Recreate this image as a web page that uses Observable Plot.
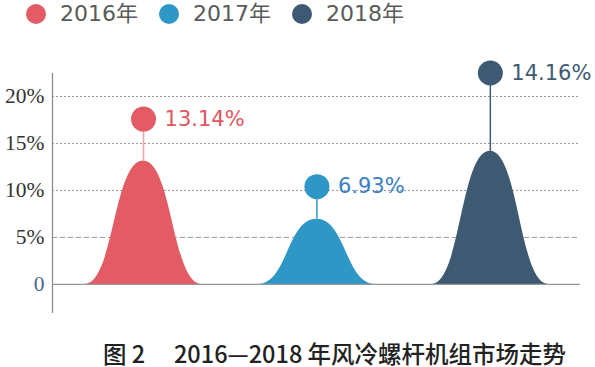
<!DOCTYPE html>
<html><head><meta charset="utf-8">
<script src="https://cdn.jsdelivr.net/npm/d3@7"></script>
<script src="https://cdn.jsdelivr.net/npm/@observablehq/plot@0.6"></script>
<style>
body{margin:0;background:#fff;width:595px;height:367px;overflow:hidden;font-family:"DejaVu Sans","Noto Sans CJK SC",sans-serif}
#legend{height:40px;display:flex;align-items:flex-start;padding-left:26px;box-sizing:border-box}
.item{display:flex;align-items:center;height:28px;margin-right:21px}
.sw{width:20px;height:20px;border-radius:50%;margin-right:14px}
.lt{font-size:22px;color:#5a5a5a;line-height:28px}
#chart{height:290px}
#chart svg{display:block}
#caption{height:37px;box-sizing:border-box;padding-top:10px;line-height:26px;padding-left:103px;font-family:"Noto Sans CJK SC",sans-serif;font-size:23.5px;font-weight:500;color:#222;white-space:pre}
</style></head><body>
<div id="legend"></div>
<div id="chart"></div>
<div id="caption"></div>
<script>
const years = ["2016年", "2017年", "2018年"];
const shares = [13.14, 6.93, 14.16];
const pinTops = [17.6, 10.4, 22.5];
const fills = ["#E35B64", "#2F97C6", "#3E5A72"];
const pinColors = ["#F2A3AA", "#2F97C6", "#3E5A72"];
const labelColors = ["#E05560", "#3A80C4", "#3E5A72"];
const yTicks = [0, 5, 10, 15, 20];
const yTickLabels = ["0", "5%", "10%", "15%", "20%"];
const tickColors = ["#4A6688", "#333", "#333", "#333", "#333"];
const captionText = "图 2\u3000 2016—2018 年风冷螺杆机组市场走势";

// legend
const leg = document.getElementById("legend");
years.forEach((y, i) => {
  const it = document.createElement("div"); it.className = "item";
  const sw = document.createElement("div"); sw.className = "sw"; sw.style.background = fills[i];
  const t = document.createElement("span"); t.className = "lt"; t.textContent = y;
  it.append(sw, t); leg.append(it);
});
document.getElementById("caption").textContent = captionText;

const idx = years.map((_, i) => i);
const halfW = 0.337;
const bells = shares.flatMap((v, i) => [
  {x: i - halfW, y: 0, k: i},
  {x: i, y: v, k: i},
  {x: i + halfW, y: 0, k: i}
]);
const xMin = -0.525;

const chart = Plot.plot({
  width: 595, height: 290,
  marginLeft: 52, marginRight: 15, marginTop: 33, marginBottom: 17,
  x: {domain: [xMin, 2.52], axis: null},
  y: {domain: [-3.1, 22.45], axis: null},
  color: {type: "identity"},
  style: {background: "transparent"},
  marks: [
    Plot.ruleY([5], {stroke: "#999", strokeWidth: 1, strokeDasharray: "5,3"}),
    Plot.ruleY([10, 15, 20], {stroke: "#9a9a9a", strokeWidth: 1, strokeDasharray: "2,2"}),
    Plot.areaY(bells, {x: "x", y: "y", z: "k", fill: d => fills[d.k], curve: "bump-x"}),
    Plot.ruleY([0], {stroke: "#999", strokeWidth: 1.3}),
    Plot.ruleX([xMin], {stroke: "#888", strokeWidth: 1.2}),
    Plot.ruleX(idx, {x: i => i, y1: i => shares[i], y2: i => pinTops[i], stroke: i => pinColors[i], strokeWidth: 1.5}),
    Plot.dot(idx, {x: i => i, y: i => pinTops[i], r: 12.5, fill: i => fills[i], stroke: null}),
    Plot.text(idx, {x: i => i, y: i => pinTops[i], text: i => shares[i].toFixed(2) + "%", dx: 21, textAnchor: "start", fontSize: 21, fontFamily: "DejaVu Sans", fill: i => labelColors[i]}),
    Plot.text(yTicks, {y: d => d, text: (d, i) => yTickLabels[i], frameAnchor: "left", textAnchor: "end", dx: -8, fontSize: 21.5, fontFamily: "Liberation Serif", fill: (d, i) => tickColors[i]})
  ]
});
// force serif on the y tick labels
d3.select(chart).selectAll("text").each(function() {
  if (yTickLabels.includes(this.textContent)) {
    this.style.fontFamily = '"Liberation Serif", "Times New Roman", serif';
  }
});
document.getElementById("chart").append(chart);
</script>
</body></html>
